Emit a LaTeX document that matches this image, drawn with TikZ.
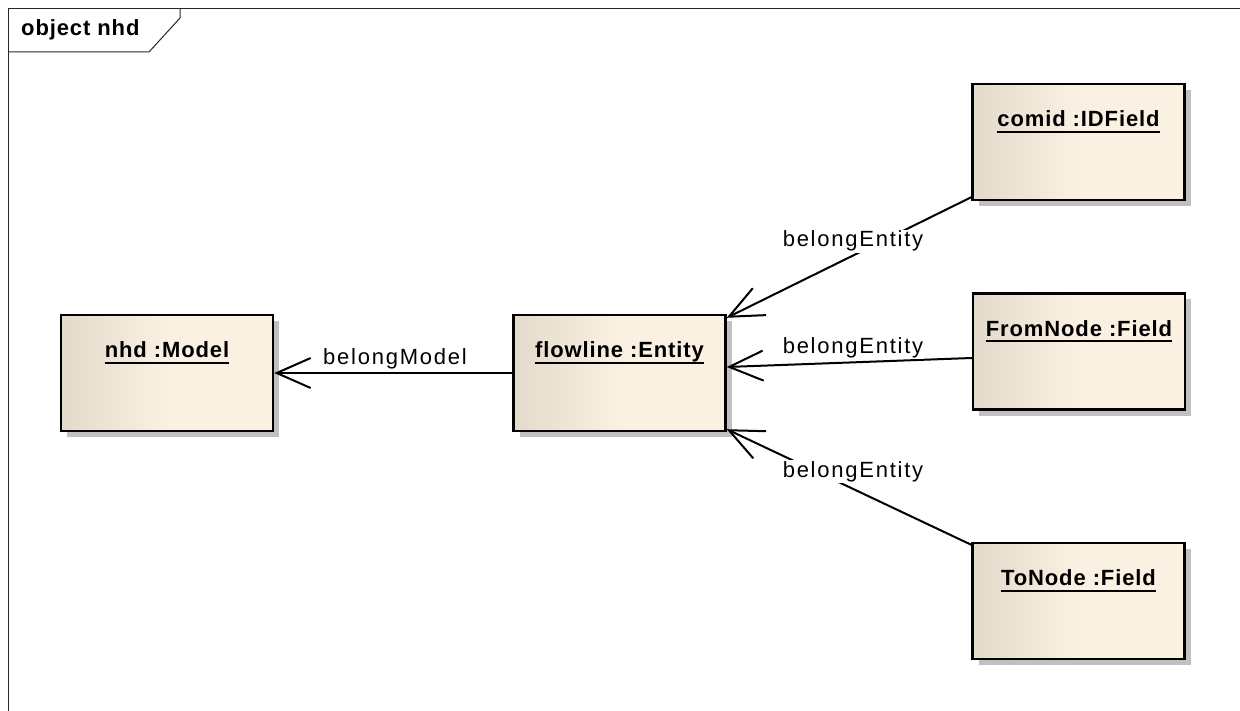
\documentclass[tikz,border=0pt]{standalone}
\usepackage{fontspec}
\setmainfont{Liberation Sans}
\newfontfamily\labfont[LetterSpace=8]{Liberation Sans}
\newfontfamily\namefont[LetterSpace=4]{Liberation Sans Bold}
\usetikzlibrary{arrows.meta,shadows}
\definecolor{boxL}{RGB}{228,218,203}
\definecolor{boxR}{RGB}{251,241,227}
\definecolor{shadowc}{RGB}{192,192,192}
\tikzset{
  objbox/.style={draw=black, line width=2.4pt, minimum width=212pt, minimum height=116pt,
    inner sep=0pt, left color=boxL, right color=boxR, middle color=boxR,
    drop shadow={shadow xshift=6pt, shadow yshift=-6pt, fill=shadowc, opacity=1}},
  objname/.style={inner sep=0pt, anchor=base, font=\namefont\fontsize{22}{26}\selectfont},
  uline/.style={line width=2.2pt},
  conn/.style={line width=2pt, -{Straight Barb[length=34pt,width=30pt,line width=2pt]}},
  clabel/.style={fill=white, inner sep=1pt, font=\labfont\fontsize{22}{26}\selectfont},
  framel/.style={line width=1pt, draw=black!85}
}
\begin{document}
\begin{tikzpicture}[x=1pt,y=-1pt]
\useasboundingbox (0,0) rectangle (1240,711);
% frame
\draw[framel] (8.5,712) -- (8.5,8.5) -- (1241,8.5);
\draw[framel] (8.5,52) -- (149,52) -- (180,18) -- (180,8.5);
\node[anchor=base west, inner sep=0pt, font=\namefont\fontsize{22}{26}\selectfont] (title) at (21,36) {object nhd};
% boxes
\node[objbox] (nhd) at (167,373) {};
\node[objbox] (flow) at (619.5,373) {};
\node[objbox] (comid) at (1078.5,142) {};
\node[objbox] (from) at (1079,351.5) {};
\node[objbox] (to) at (1078.5,601) {};
% names
\foreach \n/\t in {nhd/nhd :Model, flow/flowline :Entity, comid/comid :IDField, from/FromNode :Field, to/ToNode :Field}{
  \node[objname] (\n T) at ([yshift=-44pt]\n.north) {\t};
  \draw[uline] ([yshift=-5pt]\n T.base west) -- ([yshift=-5pt]\n T.base east);
}
% connectors
\draw[conn] (flow.west) -- (nhd.east);
\draw[conn] ([yshift=4pt]comid.south west) -- ([yshift=-4pt]flow.north east);
\draw[conn] ([yshift=-6.5pt]from.west) -- ([yshift=6pt]flow.east);
\draw[conn] ([yshift=-3pt]to.north west) -- ([yshift=3pt]flow.south east);
% labels
\node[clabel, anchor=base] (l0) at (395,365) {belongModel};
\node[clabel, anchor=base] (l1) at (853,247) {belongEntity};
\node[clabel, anchor=base] (l2) at (853,353) {belongEntity};
\node[clabel, anchor=base] (l3) at (853,477) {belongEntity};
\end{tikzpicture}
\end{document}
